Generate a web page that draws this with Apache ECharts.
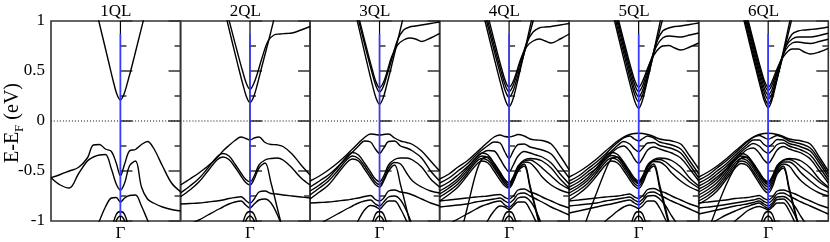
<!DOCTYPE html>
<html><head><meta charset="utf-8">
<script src="https://cdn.jsdelivr.net/npm/echarts@6/dist/echarts.min.js"></script>
<style>html,body{margin:0;padding:0;background:#fff}#c{width:830px;height:242px}</style>
</head><body><div id="c"></div>
<script>
// k sample points (K ... Gamma=0 ... M)
const KV = [-1.155,-1.0,-0.85,-0.7,-0.55,-0.45,-0.35,-0.25,-0.15,-0.07,0,0.07,0.15,0.25,0.35,0.45,0.55,0.7,0.85,1.0];
const KC = [-0.5,-0.4,-0.3,-0.2,-0.12,-0.06,0,0.06,0.12,0.2,0.3,0.4,0.5,0.6,0.7,0.85,1.0];
const titles = ['1QL','2QL','3QL','4QL','5QL','6QL'];
const yTicks = [-1,-0.5,0,0.5,1];
const blueTop = [0.87,0.87,0.87,0.87,0.87,0.87];
const blueBottom = [-0.95,-0.88,-0.88,-0.86,-0.87,-0.87];
const _ = null;

// conduction bands (on KC)
const cb1 = [
 [_,1.10,0.85,0.60,0.40,0.27,0.21,0.27,0.39,0.57,0.81,1.05,_,_,_,_,_]
];
const cb2 = [
 [1.30,1.05,0.80,0.557,0.37,0.246,0.183,0.24,0.36,0.55,0.78,1.02,_,_,_,_,_],
 [1.36,1.128,0.896,0.667,0.492,0.376,0.317,0.37,0.47,0.63,0.80,0.86,0.87,0.875,0.88,0.91,0.945]
];
const cb3 = [
 [1.34,1.078,0.818,0.561,0.363,0.233,0.167,0.23,0.36,0.55,0.80,1.05,_,_,_,_,_],
 [1.375,1.133,0.892,0.654,0.472,0.351,0.29,0.34,0.45,0.61,0.81,0.91,0.94,0.95,0.96,0.975,0.99],
 [1.407,1.167,0.929,0.693,0.513,0.393,0.333,0.38,0.48,0.64,0.76,0.81,0.83,0.82,0.795,0.83,0.877]
];
const cb4 = [
 [1.247,1.0,0.755,0.513,0.328,0.205,0.143,0.21,0.345,0.55,0.81,1.08,_,_,_,_,_],
 [1.295,1.059,0.824,0.592,0.414,0.296,0.237,0.29,0.40,0.57,0.78,1.0,1.22,_,_,_,_],
 [1.339,1.105,0.873,0.644,0.468,0.352,0.293,0.345,0.45,0.61,0.79,0.89,0.93,0.94,0.945,0.96,0.975],
 [1.405,1.166,0.929,0.695,0.516,0.397,0.337,0.385,0.48,0.63,0.75,0.80,0.82,0.80,0.78,0.82,0.87]
];
const cb5 = [
 [1.251,1.0,0.75,0.504,0.315,0.19,0.127,0.20,0.34,0.55,0.83,1.11,_,_,_,_,_],
 [1.295,1.049,0.804,0.563,0.377,0.255,0.193,0.253,0.372,0.55,0.79,1.02,1.26,_,_,_,_],
 [1.344,1.098,0.853,0.612,0.427,0.305,0.243,0.297,0.41,0.58,0.79,0.90,0.93,0.945,0.95,0.965,0.98],
 [1.374,1.132,0.892,0.655,0.474,0.354,0.293,0.345,0.45,0.60,0.75,0.83,0.85,0.845,0.84,0.86,0.88],
 [1.405,1.166,0.929,0.695,0.516,0.397,0.337,0.39,0.48,0.60,0.70,0.75,0.755,0.73,0.71,0.74,0.78]
];
const cb6 = [
 [1.25,1.0,0.752,0.508,0.32,0.196,0.133,0.204,0.344,0.556,0.832,1.11,_,_,_,_,_],
 [1.29,1.037,0.789,0.545,0.357,0.233,0.17,0.233,0.357,0.545,0.789,1.037,1.29,_,_,_,_],
 [1.32,1.074,0.829,0.587,0.401,0.279,0.217,0.27,0.38,0.55,0.76,0.87,0.90,0.91,0.915,0.925,0.94],
 [1.354,1.11,0.867,0.627,0.443,0.321,0.26,0.31,0.42,0.58,0.75,0.82,0.84,0.84,0.84,0.855,0.877],
 [1.387,1.145,0.904,0.667,0.484,0.364,0.303,0.355,0.45,0.59,0.72,0.78,0.79,0.78,0.775,0.795,0.817],
 [1.405,1.166,0.929,0.695,0.516,0.397,0.337,0.39,0.48,0.59,0.68,0.72,0.72,0.69,0.67,0.69,0.727]
];

// small arcs near Gamma at the bottom (on KV)
const arcBands = [
 [_,_,_,_,_,_,_,_,-1.1,-0.935,-0.905,-0.935,-1.1,_,_,_,_,_,_,_],
 [_,_,_,_,_,_,_,_,-1.3,-1.0,-0.95,-1.0,-1.3,_,_,_,_,_,_,_]
];

// valence bands (on KV)
const vb1 = [
 [-0.567,-0.535,-0.5,-0.465,-0.37,-0.24,-0.235,-0.28,-0.305,-0.42,-0.547,-0.43,-0.3,-0.285,-0.235,-0.205,-0.27,-0.45,-0.62,-0.707],
 [-0.567,-0.64,-0.67,-0.53,-0.4,-0.36,-0.34,-0.335,-0.48,-0.63,-0.69,-0.62,-0.45,-0.4,-0.66,-0.78,-0.82,-0.86,-0.885,-0.9],
 [_,_,_,_,_,-1.15,-1.0,-0.86,-0.77,-0.765,-0.81,-0.77,-0.745,-0.74,-0.85,-0.99,-1.12,_,_,_]
];
const vb2 = [
 [-0.64,-0.58,-0.52,-0.45,-0.37,-0.3,-0.245,-0.195,-0.16,-0.175,-0.19,-0.17,-0.16,-0.215,-0.235,-0.238,-0.255,-0.33,-0.44,-0.54],
 [-0.72,-0.65,-0.575,-0.47,-0.36,-0.325,-0.35,-0.43,-0.52,-0.585,-0.607,-0.55,-0.44,-0.39,-0.375,-0.37,-0.39,-0.47,-0.57,-0.64],
 [-0.757,-0.69,-0.61,-0.5,-0.39,-0.36,-0.385,-0.46,-0.55,-0.615,-0.64,-0.58,-0.47,-0.42,-0.62,-0.86,-1.1,_,_,_],
 [-0.83,-0.825,-0.82,-0.81,-0.8,-0.79,-0.775,-0.765,-0.757,-0.795,-0.823,-0.78,-0.71,-0.7,-0.725,-0.73,-0.74,-0.75,-0.76,-0.77],
 [_,-1.03,-0.99,-0.94,-0.89,-0.86,-0.83,-0.81,-0.8,-0.84,-0.87,-0.83,-0.79,-0.78,-0.82,-0.93,-1.08,_,_,_]
];
const vb3 = [
 [-0.6,-0.55,-0.49,-0.42,-0.34,-0.28,-0.22,-0.165,-0.13,-0.135,-0.14,-0.135,-0.13,-0.17,-0.2,-0.215,-0.235,-0.3,-0.4,-0.5],
 [-0.66,-0.6,-0.54,-0.46,-0.37,-0.31,-0.25,-0.2,-0.21,-0.28,-0.323,-0.27,-0.205,-0.2,-0.25,-0.27,-0.3,-0.37,-0.5,-0.6],
 [-0.7,-0.64,-0.57,-0.47,-0.36,-0.315,-0.34,-0.42,-0.51,-0.58,-0.607,-0.55,-0.44,-0.385,-0.37,-0.37,-0.39,-0.46,-0.58,-0.66],
 [-0.74,-0.67,-0.6,-0.5,-0.39,-0.35,-0.375,-0.45,-0.54,-0.61,-0.635,-0.58,-0.47,-0.415,-0.43,-0.52,-0.6,-0.66,-0.7,-0.72],
 [-0.78,-0.71,-0.64,-0.53,-0.42,-0.38,-0.4,-0.48,-0.57,-0.635,-0.66,-0.6,-0.5,-0.44,-0.64,-0.88,-1.12,_,_,_],
 [-0.82,-0.815,-0.81,-0.8,-0.79,-0.78,-0.77,-0.755,-0.745,-0.785,-0.8,-0.77,-0.7,-0.69,-0.71,-0.72,-0.74,-0.78,-0.82,-0.85],
 [_,-1.03,-0.98,-0.93,-0.88,-0.85,-0.82,-0.8,-0.79,-0.83,-0.85,-0.81,-0.76,-0.75,-0.79,-0.9,-1.05,_,_,_],
 [_,_,_,_,_,-1.12,-0.99,-0.89,-0.845,-0.855,-0.88,-0.84,-0.8,-0.8,-0.88,-1.0,-1.12,_,_,_]
];
const vb4 = [
 [-0.58,-0.53,-0.46,-0.4,-0.32,-0.265,-0.21,-0.16,-0.14,-0.155,-0.16,-0.15,-0.135,-0.15,-0.18,-0.19,-0.195,-0.23,-0.35,-0.49],
 [-0.62,-0.57,-0.5,-0.43,-0.34,-0.29,-0.245,-0.21,-0.22,-0.31,-0.373,-0.3,-0.235,-0.23,-0.26,-0.275,-0.29,-0.33,-0.45,-0.57],
 [-0.66,-0.61,-0.54,-0.46,-0.37,-0.32,-0.295,-0.3,-0.38,-0.46,-0.507,-0.44,-0.35,-0.305,-0.32,-0.34,-0.36,-0.42,-0.53,-0.63],
 [-0.7,-0.645,-0.575,-0.475,-0.365,-0.32,-0.34,-0.42,-0.51,-0.585,-0.62,-0.56,-0.45,-0.39,-0.375,-0.38,-0.4,-0.47,-0.58,-0.67],
 [-0.73,-0.67,-0.6,-0.5,-0.39,-0.35,-0.37,-0.45,-0.54,-0.61,-0.64,-0.58,-0.47,-0.41,-0.42,-0.48,-0.56,-0.64,-0.69,-0.72],
 [-0.76,-0.7,-0.63,-0.525,-0.41,-0.375,-0.395,-0.47,-0.56,-0.63,-0.655,-0.6,-0.49,-0.43,-0.65,-0.89,-1.13,_,_,_],
 [-0.8,-0.735,-0.66,-0.55,-0.44,-0.4,-0.42,-0.5,-0.59,-0.65,-0.67,-0.61,-0.5,-0.45,-0.67,-0.91,-1.15,_,_,_],
 [_,_,-1.24,-0.88,-0.52,-0.38,-0.36,-0.43,-0.52,-0.59,-0.62,-0.56,-0.46,-0.4,-0.39,-0.42,-0.47,-0.55,-0.63,-0.68],
 [-0.8,-0.79,-0.78,-0.77,-0.76,-0.755,-0.75,-0.74,-0.735,-0.765,-0.78,-0.75,-0.69,-0.68,-0.71,-0.73,-0.76,-0.8,-0.84,-0.87],
 [-0.86,-0.85,-0.84,-0.83,-0.81,-0.8,-0.79,-0.78,-0.77,-0.8,-0.82,-0.79,-0.73,-0.72,-0.75,-0.78,-0.81,-0.86,-0.9,-0.94],
 [_,-1.03,-0.98,-0.93,-0.88,-0.85,-0.83,-0.81,-0.8,-0.84,-0.86,-0.83,-0.77,-0.76,-0.8,-0.9,-1.05,_,_,_],
 [_,_,_,_,_,-1.12,-0.99,-0.9,-0.85,-0.86,-0.885,-0.85,-0.81,-0.81,-0.89,-1.01,-1.13,_,_,_]
];
const vb5 = [
 [-0.56,-0.51,-0.45,-0.38,-0.3,-0.25,-0.2,-0.16,-0.135,-0.125,-0.123,-0.125,-0.135,-0.155,-0.18,-0.19,-0.2,-0.23,-0.35,-0.48],
 [-0.6,-0.55,-0.48,-0.41,-0.33,-0.27,-0.215,-0.17,-0.15,-0.18,-0.2,-0.175,-0.15,-0.17,-0.21,-0.225,-0.24,-0.28,-0.4,-0.53],
 [-0.63,-0.58,-0.51,-0.44,-0.35,-0.3,-0.245,-0.205,-0.23,-0.28,-0.307,-0.27,-0.22,-0.215,-0.245,-0.26,-0.275,-0.32,-0.44,-0.57],
 [-0.66,-0.61,-0.54,-0.47,-0.38,-0.32,-0.27,-0.25,-0.3,-0.38,-0.423,-0.37,-0.29,-0.26,-0.28,-0.3,-0.32,-0.37,-0.48,-0.6],
 [-0.69,-0.64,-0.57,-0.47,-0.36,-0.315,-0.335,-0.41,-0.5,-0.57,-0.6,-0.545,-0.44,-0.385,-0.37,-0.375,-0.395,-0.46,-0.57,-0.65],
 [-0.72,-0.665,-0.595,-0.495,-0.385,-0.345,-0.365,-0.44,-0.53,-0.6,-0.625,-0.57,-0.465,-0.405,-0.41,-0.45,-0.52,-0.6,-0.66,-0.7],
 [-0.75,-0.695,-0.625,-0.52,-0.41,-0.37,-0.39,-0.465,-0.555,-0.625,-0.65,-0.595,-0.49,-0.43,-0.64,-0.88,-1.12,_,_,_],
 [-0.79,-0.73,-0.655,-0.55,-0.44,-0.4,-0.42,-0.495,-0.585,-0.65,-0.675,-0.62,-0.51,-0.45,-0.67,-0.91,-1.15,_,_,_],
 [_,-1.22,-0.96,-0.72,-0.49,-0.375,-0.36,-0.43,-0.52,-0.59,-0.615,-0.56,-0.455,-0.395,-0.385,-0.41,-0.46,-0.53,-0.61,-0.67],
 [-0.8,-0.79,-0.78,-0.77,-0.76,-0.755,-0.75,-0.74,-0.73,-0.76,-0.775,-0.745,-0.685,-0.675,-0.7,-0.72,-0.75,-0.79,-0.83,-0.86],
 [-0.85,-0.84,-0.83,-0.82,-0.8,-0.79,-0.78,-0.77,-0.76,-0.79,-0.81,-0.78,-0.72,-0.71,-0.74,-0.77,-0.8,-0.84,-0.88,-0.92],
 [-0.92,-0.9,-0.88,-0.86,-0.84,-0.83,-0.815,-0.8,-0.79,-0.82,-0.84,-0.81,-0.75,-0.745,-0.78,-0.85,-0.95,-1.08,_,_],
 [_,_,_,-1.1,-1.0,-0.95,-0.9,-0.86,-0.84,-0.855,-0.875,-0.845,-0.8,-0.8,-0.87,-0.99,-1.1,_,_,_]
];
const vb6 = [
 [-0.56,-0.51,-0.45,-0.38,-0.3,-0.25,-0.2,-0.16,-0.135,-0.125,-0.123,-0.125,-0.135,-0.155,-0.18,-0.19,-0.2,-0.23,-0.36,-0.5],
 [-0.59,-0.54,-0.47,-0.4,-0.32,-0.265,-0.21,-0.165,-0.145,-0.165,-0.183,-0.165,-0.145,-0.165,-0.2,-0.215,-0.23,-0.27,-0.39,-0.53],
 [-0.62,-0.57,-0.5,-0.43,-0.345,-0.29,-0.235,-0.19,-0.19,-0.235,-0.257,-0.23,-0.185,-0.19,-0.225,-0.24,-0.26,-0.3,-0.42,-0.56],
 [-0.65,-0.6,-0.53,-0.455,-0.37,-0.31,-0.26,-0.225,-0.25,-0.3,-0.323,-0.29,-0.235,-0.22,-0.25,-0.27,-0.29,-0.34,-0.46,-0.59],
 [-0.68,-0.63,-0.56,-0.48,-0.39,-0.335,-0.285,-0.27,-0.32,-0.39,-0.423,-0.37,-0.29,-0.255,-0.28,-0.3,-0.32,-0.38,-0.5,-0.62],
 [-0.71,-0.655,-0.585,-0.485,-0.37,-0.325,-0.345,-0.42,-0.51,-0.58,-0.607,-0.55,-0.445,-0.39,-0.375,-0.38,-0.4,-0.47,-0.58,-0.66],
 [-0.74,-0.685,-0.615,-0.51,-0.395,-0.35,-0.37,-0.445,-0.535,-0.605,-0.635,-0.575,-0.47,-0.41,-0.41,-0.45,-0.52,-0.6,-0.67,-0.71],
 [-0.77,-0.715,-0.645,-0.535,-0.42,-0.375,-0.395,-0.47,-0.56,-0.63,-0.66,-0.6,-0.49,-0.43,-0.45,-0.53,-0.6,-0.67,-0.72,-0.75],
 [-0.8,-0.745,-0.67,-0.56,-0.445,-0.4,-0.42,-0.5,-0.59,-0.66,-0.69,-0.63,-0.51,-0.45,-0.67,-0.91,-1.15,_,_,_],
 [-0.83,-0.775,-0.7,-0.585,-0.47,-0.425,-0.445,-0.525,-0.62,-0.69,-0.72,-0.66,-0.53,-0.47,-0.69,-0.93,-1.17,_,_,_],
 [_,-1.1,-0.86,-0.64,-0.46,-0.37,-0.36,-0.43,-0.52,-0.59,-0.615,-0.56,-0.455,-0.395,-0.385,-0.41,-0.46,-0.53,-0.61,-0.67],
 [-0.82,-0.81,-0.8,-0.79,-0.775,-0.77,-0.765,-0.755,-0.745,-0.775,-0.79,-0.76,-0.7,-0.69,-0.71,-0.73,-0.76,-0.8,-0.84,-0.87],
 [-0.87,-0.86,-0.85,-0.835,-0.82,-0.81,-0.8,-0.79,-0.775,-0.805,-0.82,-0.79,-0.73,-0.72,-0.75,-0.78,-0.81,-0.85,-0.89,-0.93],
 [-0.93,-0.91,-0.89,-0.87,-0.85,-0.84,-0.83,-0.815,-0.8,-0.83,-0.85,-0.82,-0.76,-0.755,-0.79,-0.86,-0.96,-1.09,_,_],
 [_,-1.04,-0.99,-0.94,-0.9,-0.875,-0.855,-0.835,-0.82,-0.85,-0.873,-0.84,-0.785,-0.78,-0.84,-0.95,-1.08,_,_,_],
 [_,_,_,-1.1,-1.0,-0.95,-0.9,-0.87,-0.855,-0.87,-0.89,-0.86,-0.82,-0.82,-0.9,-1.02,-1.14,_,_,_]
];

const cbAll = [cb1,cb2,cb3,cb4,cb5,cb6];
const vbAll = [vb1,vb2,vb3,vb4,vb5,vb6];

const FONT = 'Liberation Serif';
const L0 = 51, PW = 129.55, TOP = 21, PH = 200;
const KMIN = -1.155, KMAX = 1.0;

const grid = [], xAxis = [], yAxis = [], series = [], graphic = [];
function toData(ks, vals){ return ks.map((k,j)=>[k, vals[j]==null ? '-' : vals[j]]); }
function addLine(i, data, color, width, z, type){
  series.push({type:'line', xAxisIndex:i, yAxisIndex:2*i, data, symbol:'none', silent:true,
    smooth: 0.35, clip:true, z: z||2, animation:false,
    lineStyle:{color, width, type: type||'solid'}});
}
for (let i=0;i<6;i++){
  grid.push({left:L0+PW*i, top:TOP, width:PW, height:PH, show:true, borderColor:'#333', borderWidth:1.6,
    backgroundColor:'transparent', containLabel:false, outerBoundsMode:'none'});
  xAxis.push({type:'value', gridIndex:i, min:KMIN, max:KMAX,
    axisLine:{show:false}, axisTick:{show:false}, splitLine:{show:false},
    axisLabel:{customValues:[0], formatter:()=> 'Γ', fontFamily:FONT, fontSize:17, color:'#000', margin:4}});
  const yBase = {type:'value', gridIndex:i, min:-1, max:1, interval:0.5,
    axisLine:{show:false}, splitLine:{show:false},
    axisTick:{show:true, inside:true, length:12, lineStyle:{color:'#333', width:1.5}},
    minorTick:{show:true, splitNumber:2, length:6, lineStyle:{color:'#333', width:1.5}}};
  yAxis.push(Object.assign({}, yBase, {position:'left',
    axisLabel:{show:i===0, fontFamily:FONT, fontSize:17, color:'#000', margin:6,
      customValues: yTicks, formatter: v => String(v)}}));
  yAxis.push(Object.assign({}, yBase, {position:'right', axisLabel:{show:false}}));

  graphic.push({type:'text', x:L0+PW*(i+0.5), y:20, style:{text:titles[i], font:'17px "Liberation Serif"', fill:'#000', textAlign:'center', textVerticalAlign:'bottom'}});

  // zero line
  addLine(i, [[KMIN,0],[KMAX,0]], '#000', 1, 1, [1,2]);
  // Gamma vertical line
  addLine(i, [[0,-1],[0,1]], '#000', 1.2, 1);
  cbAll[i].forEach(b => addLine(i, toData(KC,b), '#000', 1.4, 2));
  vbAll[i].forEach(b => addLine(i, toData(KV,b), '#000', 1.4, 2));
  arcBands.forEach(b => addLine(i, toData(KV,b), '#000', 1.4, 2));
  addLine(i, [[0,blueBottom[i]],[0,blueTop[i]]], '#3a3aff', 1.6, 5);
}
// y-axis title, rotated, with subscript F
graphic.push({type:'text', x:13, y:123, rotation:Math.PI/2,
  style:{text:'E-E{s|F} (eV)', font:'20px "Liberation Serif"', fill:'#000',
    textAlign:'center', textVerticalAlign:'middle',
    rich:{s:{fontSize:13, fontFamily:FONT, fill:'#000', verticalAlign:'bottom', lineHeight:26, padding:[8,0,0,0]}}}});

const chart = echarts.init(document.getElementById('c'), null, {renderer:'canvas'});
chart.setOption({animation:false, backgroundColor:'#fff', grid, xAxis, yAxis, series, graphic});
</script></body></html>
